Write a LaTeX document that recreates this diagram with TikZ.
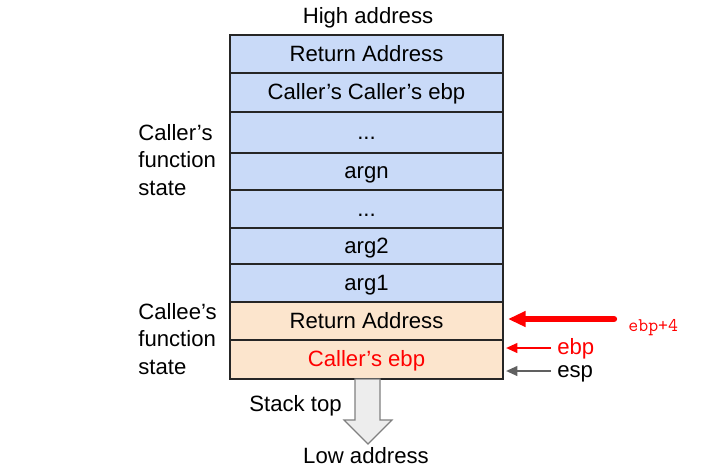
\documentclass[tikz,border=0pt]{standalone}
\usepackage{fontspec}
\setmainfont{Liberation Sans}
\usetikzlibrary{arrows.meta}
\definecolor{callerblue}{HTML}{C9DAF8}
\definecolor{calleeorange}{HTML}{FCE5CD}
\definecolor{ptrgray}{HTML}{606060}
\newcommand\threedots{...}
\tikzset{
  cell/.style={draw=black!85,line width=1.1pt},
  lbl/.style={font=\fontsize{12.6}{15.5}\selectfont,inner sep=0pt},
  celltext/.style={lbl,text height=0.82em,text depth=0pt},
  side/.style={lbl,align=left,anchor=west},
  ptr/.style={line width=1.3pt,-{Triangle[length=6.5pt,width=5.5pt]}}
}
\begin{document}
\begin{tikzpicture}[x=0.02cm,y=-0.02cm]
\useasboundingbox (0,0) rectangle (709,471);
\node[lbl] (high) at (368,18) {High address};
%%%% caller's frame
\foreach \t/\b/\n/\l in {35/73/ret1/Return Address,73/112/ccebp/Caller’s Caller’s ebp,
112/153/dots1/\threedots,153/190/argn/argn,190/228/dots2/\threedots,228/264/argtwo/arg2,264/302/argone/arg1}
\draw[cell,fill=callerblue] (230,\t) rectangle (503,\b) node[midway,celltext] (\n) {\l};
%%%% callee's frame
\draw[cell,fill=calleeorange] (230,302) rectangle (503,340) node[midway,celltext] (ret2) {Return Address};
\draw[cell,fill=calleeorange] (230,340) rectangle (503,379) node[midway,celltext,text=red] (cebp) {Caller’s ebp};
%%%%
\node[side] (callerstate) at (138,160) {Caller’s\\function\\state};
\node[side] (calleestate) at (138,339) {Callee’s\\function\\state};
%%%% pointers
\coordinate (ebpfourtail) at (614,319);
\coordinate (ebpfourtip) at (508,319);
\coordinate (ebptail) at (551,348);
\coordinate (ebptip) at (506,348);
\coordinate (esptail) at (551,371);
\coordinate (esptip) at (506,371);
\node[lbl,anchor=west,text=red] (ebp) at (557,349) {ebp};
\node[lbl,anchor=west] (esp) at (557,374) {esp};
\node[anchor=west,inner sep=0pt,text=red,font=\ttfamily\fontsize{11}{12}\selectfont] (ebpfour) at (628,328) {ebp+4};
\draw[red,line width=3.6pt,line cap=round,-{Triangle[length=10pt,width=8.5pt]}] (ebpfourtail) -- (ebpfourtip);
\draw[ptr,red] (ebptail) -- (ebptip);
\draw[ptr,ptrgray] (esptail) -- (esptip);
%%%% growth
\draw[gray,fill=black!7,line width=0.7pt] (355,379) -- (380,379) -- (380,420) -- (392,420)
-- (368,444) -- (344,420) -- (355,420) -- cycle;
\node[lbl,anchor=east] (stacktop) at (342,406) {Stack top};
\node[lbl] (low) at (366,456) {Low address};
\end{tikzpicture}
\end{document}
